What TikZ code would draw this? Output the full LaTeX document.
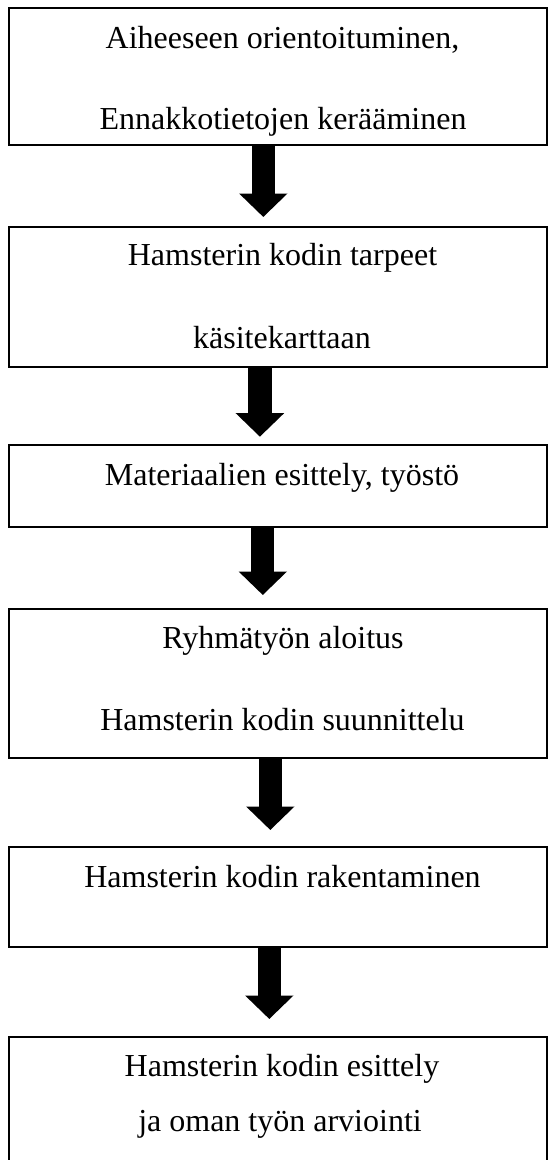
\documentclass[tikz,border=0pt]{standalone}
\usepackage{fontspec}
\setmainfont{Liberation Serif}
\usetikzlibrary{arrows.meta}
\begin{document}
\begin{tikzpicture}[x=1pt,y=-1pt,
  box/.style={draw=black, line width=1.2pt, minimum width=538pt, inner sep=0pt, outer sep=0pt},
  txt/.style={anchor=base, inner sep=0pt, font=\fontsize{32}{38}\selectfont},
  blockarrow/.style={line width=23.3pt, black, -{Triangle[length=23.5pt, width=47pt]}}]
\useasboundingbox (0,0) rectangle (548,1160);
\fill[white] (0,0) rectangle (548,1160);
\clip (0,0) rectangle (548,1160);
% boxes
\node[box, minimum height=137pt] (b1) at (278,76.5) {};
\node[box, minimum height=140pt] (b2) at (278,297) {};
\node[box, minimum height=82pt]  (b3) at (278,486) {};
\node[box, minimum height=149pt] (b4) at (278,683.5) {};
\node[box, minimum height=100pt] (b5) at (278,897) {};
\node[box, minimum height=125pt] (b6) at (278,1099.5) {};
% texts
\node[txt] (l1a) at (282.5,48.3) {Aiheeseen orientoituminen,};
\node[txt] (l1b) at (283,129) {Ennakkotietojen kerääminen};
\node[txt] (l2a) at (282.5,265.7) {Hamsterin kodin tarpeet};
\node[txt] (l2b) at (282,348.3) {käsitekarttaan};
\node[txt] (l3a) at (282,485) {Materiaalien esittely, työstö};
\node[txt] (l4a) at (283,648.3) {Ryhmätyön aloitus};
\node[txt] (l4b) at (282.5,730.7) {Hamsterin kodin suunnittelu};
\node[txt] (l5a) at (282.5,887) {Hamsterin kodin rakentaminen};
\node[txt] (l6a) at (282,1076.6) {Hamsterin kodin esittely};
\node[txt] (l6b) at (280,1131.7) {ja oman työn arviointi};
% arrow tips
\coordinate (t1) at (263.3,217);
\coordinate (t2) at (259.9,436.7);
\coordinate (t3) at (262.8,595);
\coordinate (t4) at (270.3,830);
\coordinate (t5) at (269.3,1019);
\draw[blockarrow] (t1 |- b1.south) -- (t1);
\draw[blockarrow] (t2 |- b2.south) -- (t2);
\draw[blockarrow] (t3 |- b3.south) -- (t3);
\draw[blockarrow] (t4 |- b4.south) -- (t4);
\draw[blockarrow] (t5 |- b5.south) -- (t5);
\end{tikzpicture}
\end{document}
